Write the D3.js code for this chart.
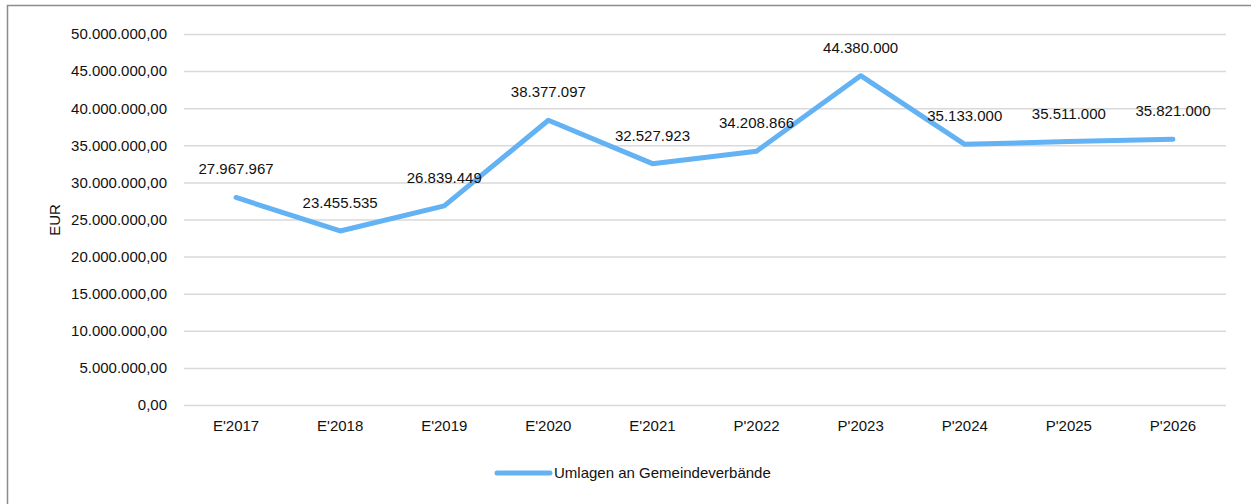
<!DOCTYPE html>
<html>
<head>
<meta charset="utf-8">
<script src="https://cdn.jsdelivr.net/npm/d3@7"></script>
<style>
  body { margin: 0; background: #fff; }
  text { font-family: "Liberation Sans", Arial, sans-serif; fill: #111; }
</style>
</head>
<body>
<div id="chart"></div>
<script>
// data
var categories = ["E'2017", "E'2018", "E'2019", "E'2020", "E'2021", "P'2022", "P'2023", "P'2024", "P'2025", "P'2026"];
var values = [27967967, 23455535, 26839449, 38377097, 32527923, 34208866, 44380000, 35133000, 35511000, 35821000];
var yTicks = [0, 5000000, 10000000, 15000000, 20000000, 25000000, 30000000, 35000000, 40000000, 45000000, 50000000];
var seriesName = "Umlagen an Gemeindeverbände";

var width = 1251, height = 504;
var margin = {left: 184, right: 25, top: 34, bottom: 99};
var lineColor = '#62b2f4';
var fontSize = '15px';

var svg = d3.select('#chart').append('svg')
    .attr('width', width)
    .attr('height', height);

// outer frame
svg.append('rect')
    .attr('x', 7.5).attr('y', 5.5)
    .attr('width', width + 20).attr('height', height + 20)
    .attr('fill', 'none')
    .attr('stroke', '#8c8c8c')
    .attr('stroke-width', 1.5);

var x = d3.scaleBand()
    .domain(categories)
    .range([margin.left, width - margin.right - 1]);

var y = d3.scaleLinear()
    .domain([0, 50000000])
    .range([height - margin.bottom, margin.top]);

var locale = d3.formatLocale({decimal: ',', thousands: '.', grouping: [3], currency: ['', ' €']});
var fmtAxis = locale.format(',.2f');
var fmtLabel = locale.format(',.0f');

// gridlines + y labels
var yAxis = svg.append('g')
    .attr('transform', 'translate(' + margin.left + ',0)')
    .call(d3.axisLeft(y).tickValues(yTicks).tickFormat(fmtAxis).tickSize(-(width - margin.left - margin.right)).tickPadding(17));
yAxis.select('.domain').remove();
yAxis.selectAll('line').attr('stroke', '#d9d9d9').attr('stroke-width', 1.5);
yAxis.selectAll('text').attr('font-size', fontSize).attr('fill', '#111')
    .style('font-family', '"Liberation Sans", Arial, sans-serif');

// x labels
var xAxis = svg.append('g')
    .attr('transform', 'translate(0,' + (height - margin.bottom) + ')')
    .call(d3.axisBottom(x).tickSize(0).tickPadding(15));
xAxis.select('.domain').remove();
xAxis.selectAll('text').attr('font-size', fontSize).attr('fill', '#111')
    .style('font-family', '"Liberation Sans", Arial, sans-serif');

// y axis title
svg.append('text')
    .attr('transform', 'translate(60,220) rotate(-90)')
    .attr('text-anchor', 'middle')
    .attr('font-size', fontSize)
    .text('EUR');

// line
var line = d3.line()
    .x(function(d, i) { return x(categories[i]) + x.bandwidth() / 2; })
    .y(function(d) { return y(d); });

svg.append('path')
    .datum(values)
    .attr('d', line)
    .attr('fill', 'none')
    .attr('stroke', lineColor)
    .attr('stroke-width', 5)
    .attr('stroke-linejoin', 'round')
    .attr('stroke-linecap', 'round');

// data labels
svg.selectAll('.data-label')
    .data(values)
    .enter().append('text')
    .attr('class', 'data-label')
    .attr('x', function(d, i) { return x(categories[i]) + x.bandwidth() / 2; })
    .attr('y', function(d) { return y(d) - 23; })
    .attr('text-anchor', 'middle')
    .attr('font-size', fontSize)
    .text(function(d) { return fmtLabel(d); });

// legend
var legend = svg.append('g').attr('transform', 'translate(497,473)');
legend.append('line')
    .attr('x1', 0).attr('x2', 53)
    .attr('stroke', lineColor)
    .attr('stroke-width', 5)
    .attr('stroke-linecap', 'round');
legend.append('text')
    .attr('x', 57).attr('y', 5)
    .attr('font-size', fontSize)
    .text(seriesName);
</script>
</body>
</html>
